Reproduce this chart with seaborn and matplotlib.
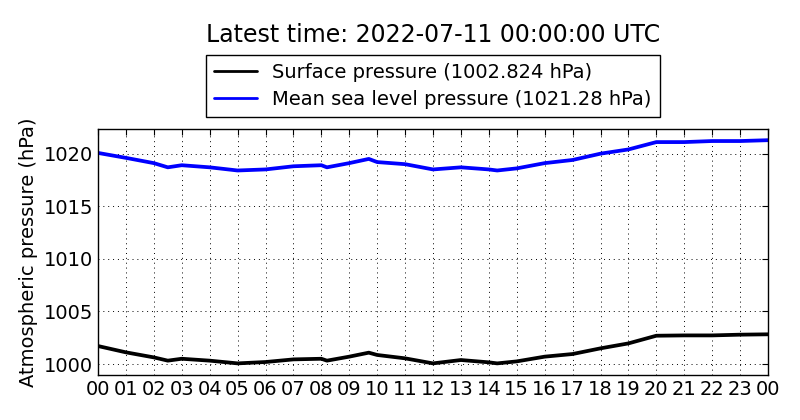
import seaborn as sns
import pandas as pd
import matplotlib.pyplot as plt

# hourly readings (hours since 00 UTC)
hours = [0, 1, 2, 2.5, 3, 4, 5, 6, 7, 8, 8.2, 9, 9.7, 10, 11, 12, 13, 14, 14.3,
         15, 16, 17, 18, 19, 20, 21, 22, 23, 24]
surface = [1001.71, 1001.11, 1000.63, 1000.32, 1000.5, 1000.32, 1000.06, 1000.19,
           1000.44, 1000.5, 1000.32, 1000.7, 1001.08, 1000.86, 1000.54, 1000.06,
           1000.38, 1000.16, 1000.06, 1000.25, 1000.7, 1000.95, 1001.49, 1001.96,
           1002.69, 1002.72, 1002.72, 1002.79, 1002.824]
msl = [1020.07, 1019.6, 1019.1, 1018.7, 1018.9, 1018.7, 1018.4, 1018.5, 1018.8,
       1018.9, 1018.7, 1019.1, 1019.5, 1019.2, 1019.0, 1018.5, 1018.7, 1018.5,
       1018.4, 1018.6, 1019.1, 1019.4, 1020.0, 1020.4, 1021.1, 1021.1, 1021.2,
       1021.2, 1021.28]
tick_hours = list(range(25))
tick_labels = ['%02d' % (h % 24) for h in tick_hours]

sns.set_style('white')
plt.rcParams['font.family'] = ['DejaVu Sans']
plt.rcParams['text.color'] = 'black'
plt.rcParams['axes.labelcolor'] = 'black'
plt.rcParams['xtick.color'] = 'black'
plt.rcParams['ytick.color'] = 'black'
plt.rcParams['xtick.direction'] = 'in'
plt.rcParams['ytick.direction'] = 'in'

lab_sfc = 'Surface pressure (%s hPa)' % surface[-1]
lab_msl = 'Mean sea level pressure (%s hPa)' % msl[-1]
df = pd.DataFrame({'hour': hours * 2,
                   'pressure': surface + msl,
                   'series': [lab_sfc] * len(hours) + [lab_msl] * len(hours)})

fig, ax = plt.subplots(figsize=(8, 4.2), dpi=100)
fig.subplots_adjust(left=0.1225, right=0.96, bottom=0.107, top=0.693)
sns.lineplot(data=df, x='hour', y='pressure', hue='series',
             palette={lab_sfc: 'black', lab_msl: 'blue'},
             linewidth=2.7, ax=ax)

ax.set_xlim(0, 24)
ax.set_ylim(998.95, 1022.35)
ax.set_xticks(tick_hours)
ax.set_xticklabels(tick_labels)
ax.set_yticks([1000, 1005, 1010, 1015, 1020])
ax.tick_params(labelsize=14, top=True, right=True, length=4, color='black')
ax.set_xlabel('')
ax.set_ylabel('Atmospheric pressure (hPa)', fontsize=14)
ax.grid(True, color='black', linestyle=(0, (1, 4)), linewidth=0.7)
for s in ax.spines.values():
    s.set_color('black')
    s.set_linewidth(1)

leg = ax.legend(loc='lower center', bbox_to_anchor=(0.5, 1.01), fontsize=14,
                frameon=True, fancybox=False, framealpha=1, edgecolor='black',
                handlelength=2.2, borderpad=0.4, labelspacing=0.4)
leg.get_frame().set_linewidth(1)
for line in leg.get_lines():
    line.set_linewidth(2)
ax.text(0.5, 1.382, 'Latest time: 2022-07-11 00:00:00 UTC', fontsize=17,
        ha='center', va='center', transform=ax.transAxes)

plt.savefig('out.png')
